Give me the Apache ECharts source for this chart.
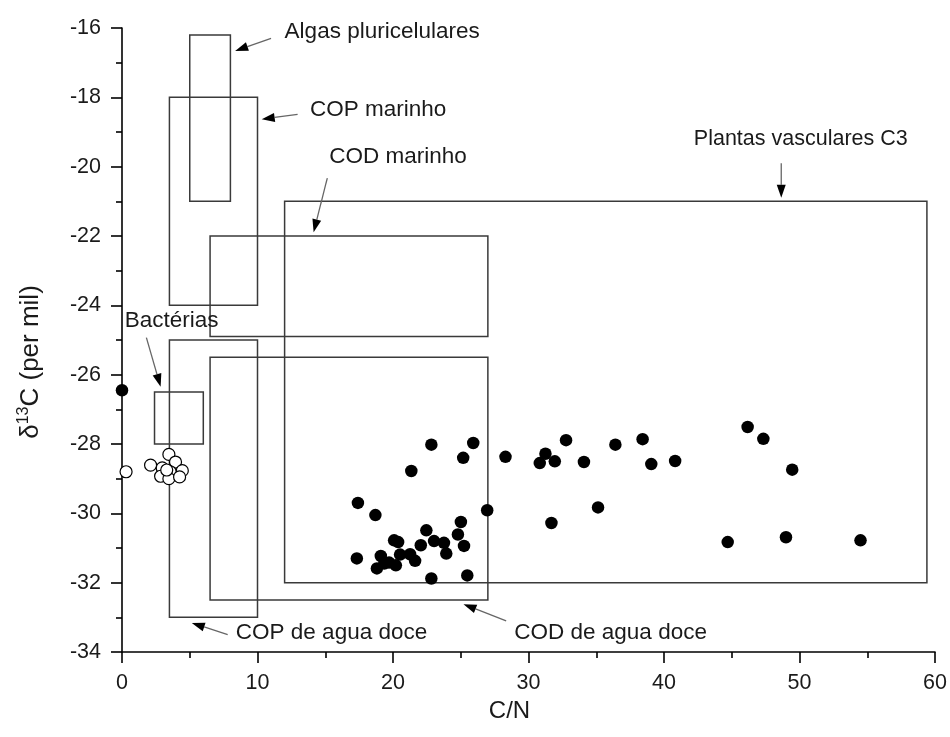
<!DOCTYPE html>
<html><head><meta charset="utf-8">
<script src="https://cdn.jsdelivr.net/npm/echarts@6/dist/echarts.min.js"></script>
<style>html,body{margin:0;padding:0;background:#fff}#c{width:950px;height:737px}</style>
</head><body><div id="c"></div>
<script>
// ---- data ----
const xTicks = [0, 10, 20, 30, 40, 50, 60];
const yTicks = [-34, -32, -30, -28, -26, -24, -22, -20, -18, -16];

const filledX = [0, 22.83, 25.92, 25.18, 28.3, 21.35, 17.41, 18.70, 26.95, 25.01, 22.46, 24.79, 20.08, 20.38, 23.03, 23.76, 22.05, 25.24, 17.33, 23.93, 19.10, 20.52, 21.26, 21.63, 20.21, 19.71, 19.35, 18.81, 22.83, 25.48,
  31.25, 30.83, 31.94, 32.77, 34.09, 36.41, 38.42, 39.06, 40.82, 31.69, 35.13, 46.17, 47.33, 49.46, 44.70, 49.0, 54.5];
const filledY = [-26.45, -28.02, -27.97, -28.40, -28.37, -28.78, -29.70, -30.05, -29.91, -30.25, -30.49, -30.61, -30.78, -30.83, -30.80, -30.85, -30.92, -30.94, -31.30, -31.16, -31.23, -31.19, -31.18, -31.37, -31.50, -31.42, -31.45, -31.59, -31.88, -31.79,
  -28.28, -28.55, -28.50, -27.89, -28.52, -28.02, -27.86, -28.58, -28.49, -30.28, -29.83, -27.51, -27.85, -28.74, -30.83, -30.69, -30.78];

const openX = [0.3, 3.46, 2.11, 2.97, 3.95, 3.56, 4.45, 2.85, 3.46, 4.25, 3.3];
const openY = [-28.8, -28.30, -28.61, -28.69, -28.52, -28.80, -28.77, -28.93, -29.0, -28.95, -28.75];

// boxes: name, x range, y range
const boxNames = ['Algas pluricelulares', 'COP marinho', 'COD marinho', 'Plantas vasculares C3', 'Bactérias', 'COP de agua doce', 'COD de agua doce'];
const boxX0 = [5, 3.5, 6.5, 12, 2.4, 3.5, 6.5];
const boxX1 = [8, 10, 27, 59.4, 6, 10, 27];
const boxY0 = [-21, -24, -24.9, -32, -28, -33, -32.5];
const boxY1 = [-16.2, -18, -22, -21, -26.5, -25, -25.5];

// annotation text anchor (left, middle) and arrow tail -> tip, in data units
const noteX = [12.0, 13.87, 15.3, 42.2, 0.2, 8.4, 28.95];
const noteY = [-16.12, -18.37, -19.72, -19.2, -24.45, -33.45, -33.45];
const arrowX0 = [11.0, 12.96, 15.15, 48.65, 1.8, 7.8, 28.35];
const arrowY0 = [-16.30, -18.49, -20.33, -19.9, -24.93, -33.5, -33.1];
const arrowX1 = [8.35, 10.31, 14.14, 48.65, 2.85, 5.15, 25.2];
const arrowY1 = [-16.66, -18.63, -21.89, -20.9, -26.35, -33.16, -32.62];

// ---- build ----
const FONT = '"Liberation Sans", Arial, sans-serif';
const filledData = filledX.map((x, i) => [x, filledY[i]]);
const openData = openX.map((x, i) => [x, openY[i]]);
const boxData = boxNames.map((n, i) => [boxX0[i], boxY0[i], boxX1[i], boxY1[i]]);
const noteData = boxNames.map((n, i) => [noteX[i], noteY[i], arrowX0[i], arrowY0[i], arrowX1[i], arrowY1[i]]);

const chart = echarts.init(document.getElementById('c'), null, {renderer: 'canvas'});
chart.setOption({
  animation: false,
  backgroundColor: '#fff',
  grid: {left: 122, right: 13, top: 28, bottom: 85, containLabel: false},
  xAxis: {
    type: 'value', min: xTicks[0], max: xTicks[xTicks.length - 1], interval: 10,
    name: 'C/N', nameLocation: 'middle', nameGap: 28,
    nameTextStyle: {fontFamily: FONT, fontSize: 24, color: '#1a1a1a', padding: [0, 38, 0, 0]},
    axisLine: {show: true, onZero: false, lineStyle: {color: '#000', width: 1.6}},
    axisTick: {show: true, inside: false, length: 11, lineStyle: {color: '#000', width: 1.6}},
    minorTick: {show: true, splitNumber: 2, length: 6, lineStyle: {color: '#000', width: 1.6}},
    axisLabel: {fontFamily: FONT, fontSize: 21.5, color: '#1a1a1a', margin: 20},
    splitLine: {show: false}
  },
  yAxis: {
    type: 'value', min: yTicks[0], max: yTicks[yTicks.length - 1], interval: 2,
    name: '{a|δ}{s|13}{a|C (per mil)}', nameLocation: 'middle', nameGap: 76, nameRotate: 90,
    nameTextStyle: {
      fontFamily: FONT, fontSize: 26, color: '#1a1a1a', padding: [0, 44, 0, 0],
      rich: {
        a: {fontFamily: FONT, fontSize: 26, color: '#1a1a1a'},
        s: {fontFamily: FONT, fontSize: 16, color: '#1a1a1a', verticalAlign: 'top', padding: [0, 0, 14, 0]}
      }
    },
    axisLine: {show: true, onZero: false, lineStyle: {color: '#000', width: 1.6}},
    axisTick: {show: true, inside: false, length: 11, lineStyle: {color: '#000', width: 1.6}},
    minorTick: {show: true, splitNumber: 2, length: 6, lineStyle: {color: '#000', width: 1.6}},
    axisLabel: {fontFamily: FONT, fontSize: 21.5, color: '#1a1a1a', margin: 21},
    splitLine: {show: false}
  },
  series: [
    {
      type: 'custom', name: 'boxes', data: boxData, clip: false, z: 1,
      encode: {x: [0, 2], y: [1, 3]},
      renderItem: function (params, api) {
        const p0 = api.coord([api.value(0), api.value(3)]);
        const p1 = api.coord([api.value(2), api.value(1)]);
        return {
          type: 'rect',
          shape: {x: p0[0], y: p0[1], width: p1[0] - p0[0], height: p1[1] - p0[1]},
          style: {fill: 'none', stroke: '#3a3a3a', lineWidth: 1.5}
        };
      }
    },
    {
      type: 'custom', name: 'notes', data: noteData, clip: false, z: 3,
      encode: {x: [0, 2, 4], y: [1, 3, 5]},
      renderItem: function (params, api) {
        const i = params.dataIndex;
        const t = api.coord([api.value(0), api.value(1)]);
        const a0 = api.coord([api.value(2), api.value(3)]);
        const a1 = api.coord([api.value(4), api.value(5)]);
        const dx = a1[0] - a0[0], dy = a1[1] - a0[1];
        const L = Math.sqrt(dx * dx + dy * dy) || 1;
        const ux = dx / L, uy = dy / L;
        const hl = 13, hw = 4.5;
        const bx = a1[0] - ux * hl, by = a1[1] - uy * hl;
        return {
          type: 'group',
          children: [
            {type: 'line', shape: {x1: a0[0], y1: a0[1], x2: bx, y2: by}, style: {stroke: '#666', lineWidth: 1.3}},
            {type: 'polygon', shape: {points: [[a1[0], a1[1]], [bx - uy * hw, by + ux * hw], [bx + uy * hw, by - ux * hw]]}, style: {fill: '#000'}},
            {type: 'text', x: t[0], y: t[1], style: {text: boxNames[i], fontFamily: FONT, fontSize: i === 3 ? 21.5 : 22.5, fill: '#1a1a1a', align: 'left', verticalAlign: 'middle'}}
          ]
        };
      }
    },
    {
      type: 'scatter', name: 'open', data: openData, symbol: 'circle', symbolSize: 12, z: 4,
      itemStyle: {color: '#fff', borderColor: '#000', borderWidth: 1.2, opacity: 1}
    },
    {
      type: 'scatter', name: 'filled', data: filledData, symbol: 'circle', symbolSize: 12.5, z: 5,
      itemStyle: {color: '#000', opacity: 1}
    }
  ]
});
</script>
</body></html>
